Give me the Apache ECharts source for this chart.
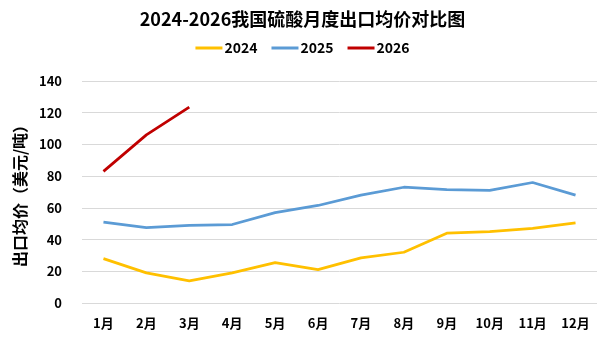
<!DOCTYPE html>
<html><head><meta charset="utf-8">
<script src="https://cdn.jsdelivr.net/npm/echarts@6/dist/echarts.min.js"></script>
<style>html,body{margin:0;padding:0;background:#fff}#c{width:605px;height:339px}</style>
</head><body><div id="c"></div>
<script>
const categories = ['1月','2月','3月','4月','5月','6月','7月','8月','9月','10月','11月','12月'];
const s2024 = [28, 19, 14, 19, 25.5, 21, 28.5, 32, 44, 45, 47, 50.5];
const s2025 = [51, 47.5, 49, 49.5, 57, 61.5, 68, 73, 71.5, 71, 76, 68];
const s2026 = [83, 106, 123.5];
const yTicks = [0, 20, 40, 60, 80, 100, 120, 140];

const font = '"Microsoft YaHei","Noto Sans CJK SC",sans-serif';
const chart = echarts.init(document.getElementById('c'));
function line(name, data, color){
  return {name, type:'line', data, showSymbol:false, symbol:'none',
    lineStyle:{color, width:2.75}, itemStyle:{color}, z:3};
}
chart.setOption({
  animation:false,
  title:{text:'2024-2026我国硫酸月度出口均价对比图', left:'center', top:5,
    textStyle:{fontFamily:font, fontSize:18, fontWeight:'bold', color:'#000'}},
  legend:{top:36, left:'center', itemWidth:27, itemHeight:3, itemGap:14, icon:'rect',
    textStyle:{fontFamily:font, fontSize:14, fontWeight:'bold', color:'#000', padding:[0,0,0,-3]},
    data:['2024','2025','2026']},
  grid:{left:82, right:8, top:81, bottom:36, containLabel:false},
  xAxis:{type:'category', data:categories, boundaryGap:true,
    axisLine:{show:false}, axisTick:{show:false},
    axisLabel:{fontFamily:font, fontSize:13, fontWeight:'bold', color:'#000', margin:14}},
  yAxis:{type:'value', min:yTicks[0], max:yTicks[yTicks.length-1], interval:20,
    name:'出口均价（美元/吨）', nameLocation:'middle', nameGap:52, nameRotate:90,
    nameTextStyle:{fontFamily:font, fontSize:16, fontWeight:'bold', color:'#000'},
    axisLine:{show:false}, axisTick:{show:false},
    axisLabel:{fontFamily:font, fontSize:13, fontWeight:'bold', color:'#000', margin:20},
    splitLine:{lineStyle:{color:'#d9d9d9', width:1}}},
  series:[line('2024', s2024, '#FFC000'), line('2025', s2025, '#5B9BD5'), line('2026', s2026, '#C00000')]
});
</script></body></html>
